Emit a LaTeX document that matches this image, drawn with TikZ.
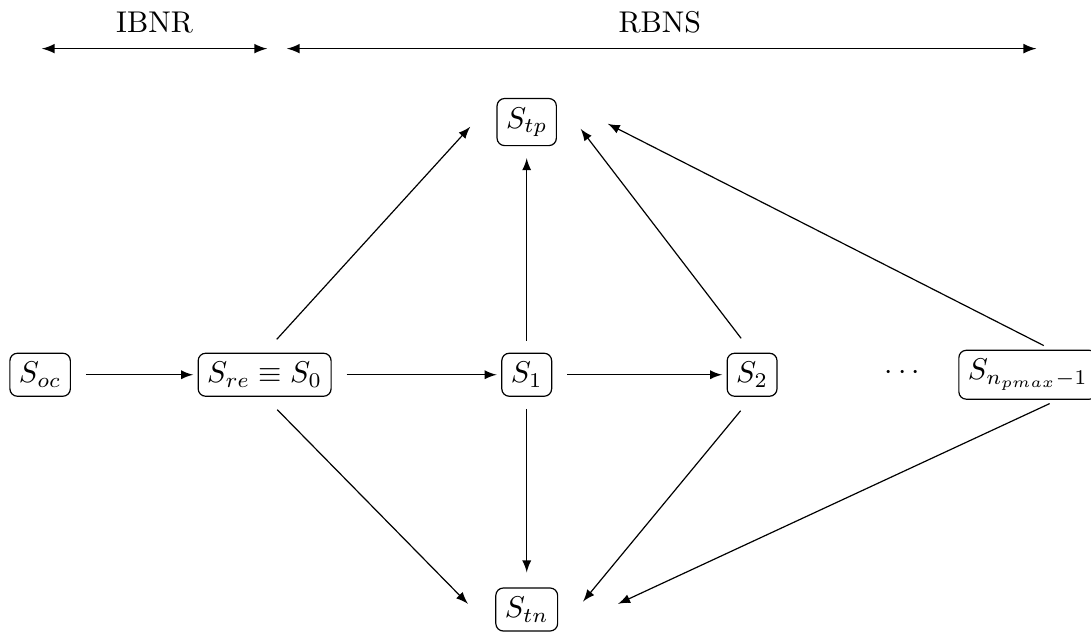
\documentclass[tikz,border=0pt]{standalone}
\usetikzlibrary{arrows}
\tikzset{
    state/.style={draw, rounded corners=2.5pt, inner sep=3pt},
    flow/.style={-latex, shorten <=5pt, shorten >=1.5pt},
    jump/.style={-latex, shorten <=6pt, shorten >=13pt},
    span/.style={latex-latex, line width=0.5pt}
}
\begin{document}
\begin{tikzpicture}
        \useasboundingbox (0,0) rectangle (12.78,7.40);
        % periods
        \node (ibnr) at (1.81,7.14) {IBNR};
        \node (rbns) at (7.73,7.14) {RBNS};
        \coordinate (ibnrL) at (0.49,6.83);
        \coordinate (ibnrR) at (3.13,6.83);
        \coordinate (rbnsL) at (3.36,6.83);
        \coordinate (rbnsR) at (12.14,6.83);
        \draw[span] (ibnrL) -- (ibnrR);
        \draw[span] (rbnsL) -- (rbnsR);
        % states
        \node[state] (soc) at (0.47,3.01) {$S_{oc}$};
        \node[state] (sre) at (3.10,3.01) {$S_{re}\equiv S_0$};
        \node[state] (s1) at (6.17,3.01) {$S_1$};
        \node[state] (s2) at (8.81,3.01) {$S_2$};
        \node (dots) at (10.57,3.03) {$\cdots$};
        \node[state] (snp) at (12.04,3.01) {$S_{n_{pmax}-1}$};
        \node[state] (stp) at (6.17,5.97) {$S_{tp}$};
        \node[state] (stn) at (6.17,0.26) {$S_{tn}$};
        % transitions
        \draw[flow] (soc) -- (sre);
        \draw[flow] (sre) -- (s1);
        \draw[flow] (s1) -- (s2);
        \draw[jump] (sre.north) -- (stp.north west);
        \draw[-latex, shorten <=4pt, shorten >=4pt] (s1.north) -- (stp.south);
        \draw[jump] (s2.north) -- (stp.north east);
        \draw[jump, shorten <=3pt, shorten >=19pt] ([xshift=8pt]snp.north) -- (stp.north east);
        \draw[jump] (sre.south) -- (stn.south west);
        \draw[-latex, shorten <=4pt, shorten >=5pt] (s1.south) -- (stn.north);
        \draw[jump] (s2.south) -- (stn.south east);
        \draw[jump, shorten <=3pt, shorten >=22pt] ([xshift=10pt]snp.south) -- (stn.south east);
    \end{tikzpicture}
\end{document}
